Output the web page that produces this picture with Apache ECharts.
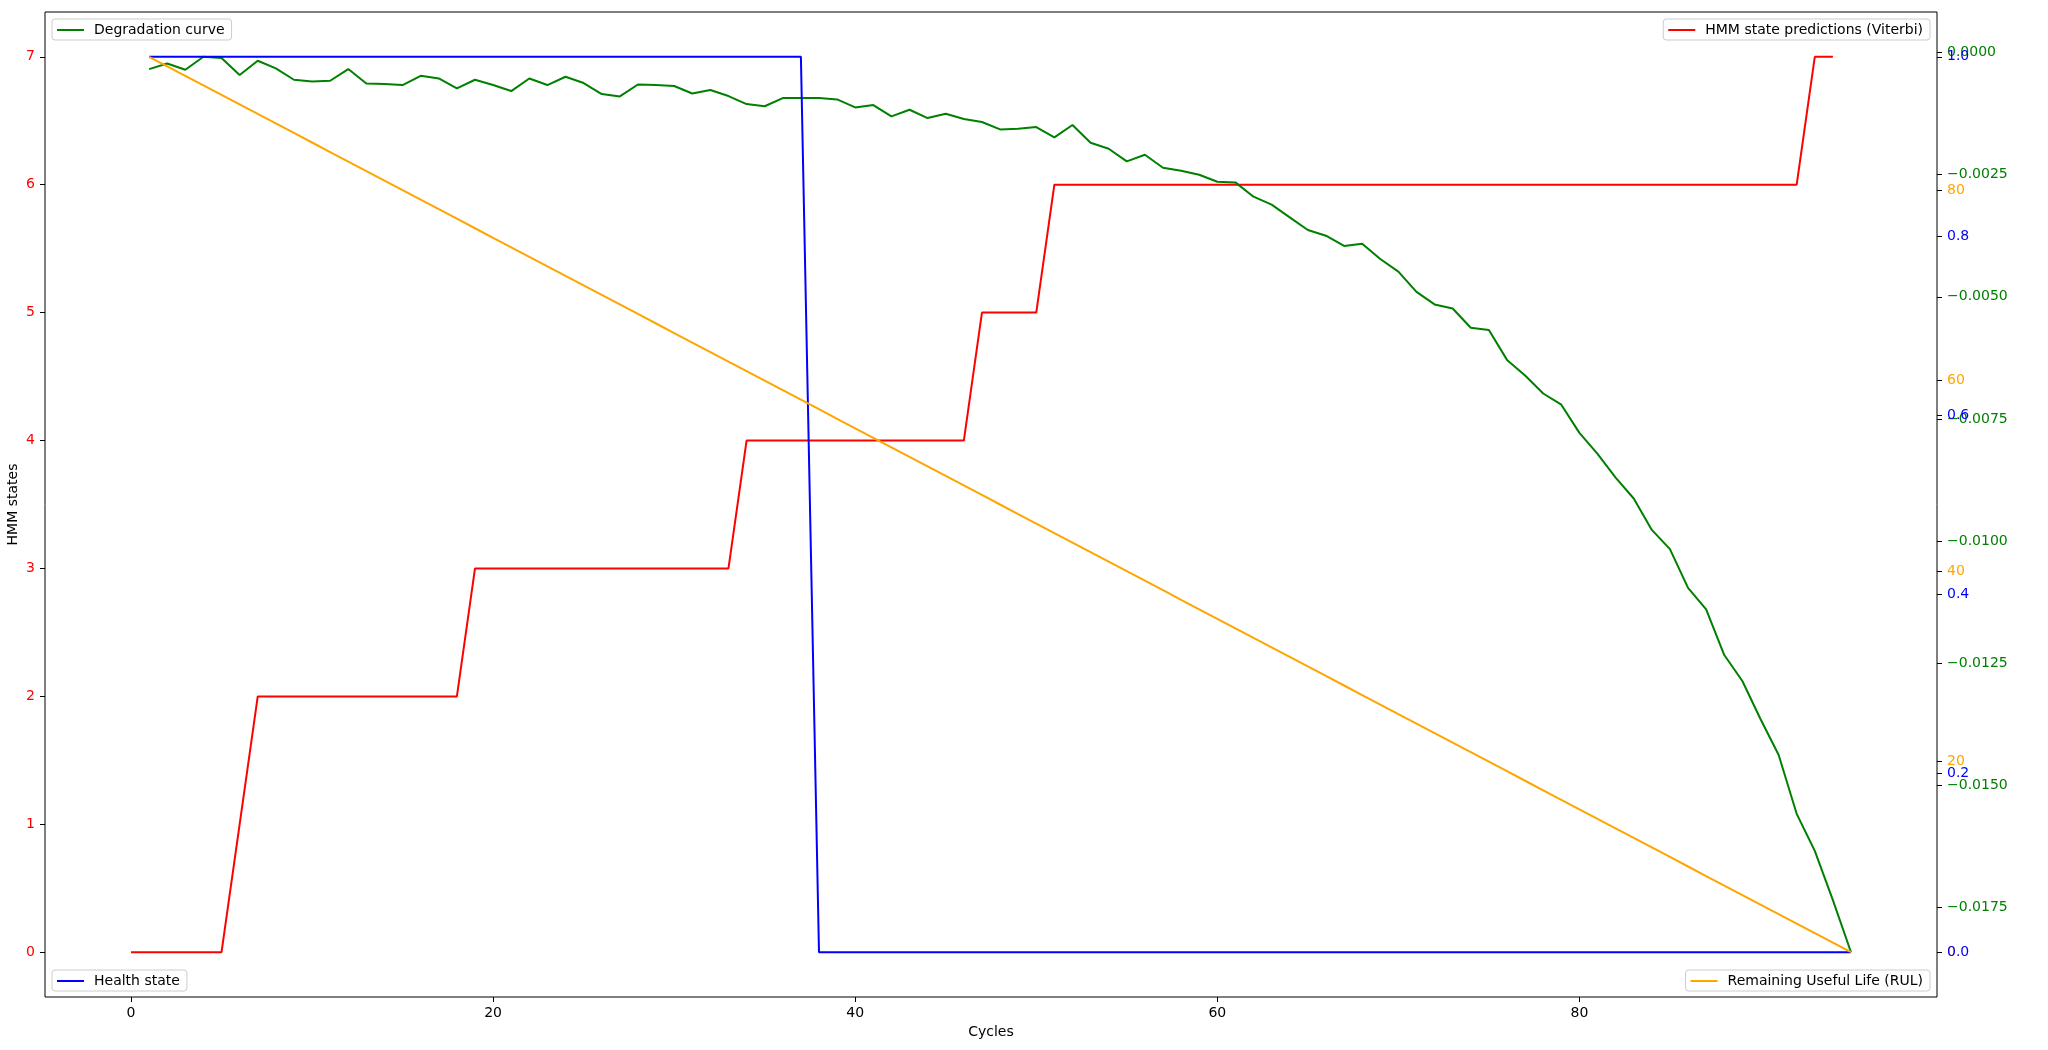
<!DOCTYPE html>
<html>
<head>
<meta charset="utf-8">
<script src="https://cdn.jsdelivr.net/npm/echarts@6/dist/echarts.min.js"></script>
<style>
  html, body { margin: 0; padding: 0; background: #fff; }
  #chart { width: 2048px; height: 1050px; }
</style>
</head>
<body>
<div id="chart"></div>
<script>
// HMM state predictions (Viterbi), cycles 0..94
const hmmStates = [
    0, 0, 0, 0, 0, 0, 1, 2, 2, 2, 2, 2, 2, 2, 2, 2, 2, 2, 2, 3,
    3, 3, 3, 3, 3, 3, 3, 3, 3, 3, 3, 3, 3, 3, 4, 4, 4, 4, 4, 4,
    4, 4, 4, 4, 4, 4, 4, 5, 5, 5, 5, 6, 6, 6, 6, 6, 6, 6, 6, 6,
    6, 6, 6, 6, 6, 6, 6, 6, 6, 6, 6, 6, 6, 6, 6, 6, 6, 6, 6, 6,
    6, 6, 6, 6, 6, 6, 6, 6, 6, 6, 6, 6, 6, 7, 7
];
const hmmStartCycle = 0;

// degradation curve, cycles 1..95
const degradation = [
    -0.000340, -0.000225, -0.000354, -0.000088, -0.000115, -0.000462, -0.000170, -0.000327, -0.000558, -0.000593,
    -0.000579, -0.000340, -0.000634, -0.000646, -0.000667, -0.000477, -0.000532, -0.000736, -0.000558, -0.000667,
    -0.000790, -0.000532, -0.000667, -0.000497, -0.000626, -0.000851, -0.000900, -0.000655, -0.000667, -0.000687,
    -0.000839, -0.000769, -0.000892, -0.001056, -0.001101, -0.000933, -0.000933, -0.000933, -0.000961, -0.001125,
    -0.001076, -0.001309, -0.001172, -0.001342, -0.001254, -0.001362, -0.001424, -0.001575, -0.001561, -0.001526,
    -0.001739, -0.001485, -0.001847, -0.001970, -0.002230, -0.002093, -0.002359, -0.002420, -0.002502, -0.002645,
    -0.002659, -0.002952, -0.003115, -0.003375, -0.003633, -0.003750, -0.003960, -0.003913, -0.004226, -0.004486,
    -0.004901, -0.005157, -0.005241, -0.005634, -0.005681, -0.006292, -0.006613, -0.006980, -0.007209, -0.007786,
    -0.008215, -0.008700, -0.009129, -0.009772, -0.010165, -0.010960, -0.011400, -0.012333, -0.012865, -0.013642,
    -0.014374, -0.015583, -0.016342, -0.017349, -0.018416
];
const lifeStartCycle = 1;

// health state, cycles 1..95
const healthState = [
    1, 1, 1, 1, 1, 1, 1, 1, 1, 1, 1, 1, 1, 1, 1, 1, 1, 1, 1, 1,
    1, 1, 1, 1, 1, 1, 1, 1, 1, 1, 1, 1, 1, 1, 1, 1, 1, 0, 0, 0,
    0, 0, 0, 0, 0, 0, 0, 0, 0, 0, 0, 0, 0, 0, 0, 0, 0, 0, 0, 0,
    0, 0, 0, 0, 0, 0, 0, 0, 0, 0, 0, 0, 0, 0, 0, 0, 0, 0, 0, 0,
    0, 0, 0, 0, 0, 0, 0, 0, 0, 0, 0, 0, 0, 0, 0
];

// remaining useful life, cycles 1..95
const rul = [
    94, 93, 92, 91, 90, 89, 88, 87, 86, 85, 84, 83, 82, 81, 80, 79, 78, 77, 76, 75,
    74, 73, 72, 71, 70, 69, 68, 67, 66, 65, 64, 63, 62, 61, 60, 59, 58, 57, 56, 55,
    54, 53, 52, 51, 50, 49, 48, 47, 46, 45, 44, 43, 42, 41, 40, 39, 38, 37, 36, 35,
    34, 33, 32, 31, 30, 29, 28, 27, 26, 25, 24, 23, 22, 21, 20, 19, 18, 17, 16, 15,
    14, 13, 12, 11, 10, 9, 8, 7, 6, 5, 4, 3, 2, 1, 0
];

const xTicks = [0, 20, 40, 60, 80];
const hmmTicks = [0, 1, 2, 3, 4, 5, 6, 7];
const degTicks = [0, -0.0025, -0.005, -0.0075, -0.01, -0.0125, -0.015, -0.0175];
const rulTicks = [0, 20, 40, 60, 80];
const healthTicks = [0, 0.2, 0.4, 0.6, 0.8, 1.0];

const FONT = 'DejaVu Sans';

function pairs(values, start) {
    return values.map((v, i) => [start + i, v]);
}
// matplotlib style 5% margins
function padded(lo, hi) {
    const m = (hi - lo) * 0.05;
    return {min: lo - m, max: hi + m};
}

const xr = padded(hmmStartCycle, lifeStartCycle + rul.length - 1);
const hr = padded(Math.min(...hmmStates), Math.max(...hmmStates));
const dr = padded(Math.min(...degradation), Math.max(...degradation));
const rr = padded(Math.min(...rul), Math.max(...rul));
const sr = padded(Math.min(...healthState), Math.max(...healthState));

function yAxis(range, ticks, color, pos, fmt) {
    return {
        type: 'value',
        position: pos,
        offset: 0,
        min: range.min,
        max: range.max,
        splitLine: {show: false},
        axisLine: {show: false, onZero: false},
        axisTick: {show: true, inside: false, length: 5, customValues: ticks,
            lineStyle: {color: '#000', width: 1}},
        axisLabel: {show: true, customValues: ticks, margin: 10, color: color,
            fontFamily: FONT, fontSize: 14, formatter: fmt}
    };
}

function legend(name, pos) {
    return Object.assign({
        data: [name],
        orient: 'horizontal',
        selectedMode: false,
        icon: 'rect',
        backgroundColor: 'rgba(255,255,255,0.8)',
        borderColor: '#cccccc',
        borderWidth: 1,
        borderRadius: 3,
        padding: [4, 7, 3, 5],
        itemWidth: 27,
        itemHeight: 2,
        textStyle: {fontFamily: FONT, fontSize: 14, color: '#000', padding: [0, 0, 0, 5]}
    }, pos);
}

const chart = echarts.init(document.getElementById('chart'), null, {renderer: 'canvas'});
chart.setOption({
    animation: false,
    backgroundColor: '#fff',
    grid: {
        left: 45, right: 111, top: 12, bottom: 53,
        show: true, borderColor: '#000', borderWidth: 1, backgroundColor: 'transparent',
        outerBoundsMode: 'none'
    },
    legend: [
        legend('Degradation curve', {left: 52, top: 19}),
        legend('HMM state predictions (Viterbi)', {right: 118, top: 19}),
        legend('Health state', {left: 52, bottom: 59}),
        legend('Remaining Useful Life (RUL)', {right: 118, bottom: 59})
    ],
    xAxis: {
        type: 'value',
        min: xr.min,
        max: xr.max,
        name: 'Cycles',
        nameLocation: 'middle',
        nameGap: 28,
        nameMoveOverlap: false,
        nameTextStyle: {fontFamily: FONT, fontSize: 14, color: '#000'},
        splitLine: {show: false},
        axisLine: {show: false, onZero: false},
        axisTick: {show: true, length: 5, customValues: xTicks, lineStyle: {color: '#000', width: 1}},
        axisLabel: {customValues: xTicks, margin: 9, color: '#000', fontFamily: FONT, fontSize: 14}
    },
    yAxis: [
        Object.assign(yAxis(hr, hmmTicks, 'red', 'left', v => String(v)), {
            name: 'HMM states',
            nameLocation: 'middle',
            nameGap: 25,
            nameMoveOverlap: false,
            nameTextStyle: {fontFamily: FONT, fontSize: 14, color: '#000'}
        }),
        yAxis(dr, degTicks, 'green', 'right',
            v => (v < 0 ? '\u2212' : '') + Math.abs(v).toFixed(4)),
        yAxis(rr, rulTicks, 'orange', 'right', v => String(v)),
        yAxis(sr, healthTicks, 'blue', 'right', v => v.toFixed(1))
    ],
    series: [
        {
            name: 'HMM state predictions (Viterbi)', type: 'line', yAxisIndex: 0,
            data: pairs(hmmStates, hmmStartCycle), symbol: 'none',
            lineStyle: {color: 'red', width: 2}, itemStyle: {color: 'red'}, z: 2
        },
        {
            name: 'Degradation curve', type: 'line', yAxisIndex: 1,
            data: pairs(degradation, lifeStartCycle), symbol: 'none',
            lineStyle: {color: 'green', width: 2}, itemStyle: {color: 'green'}, z: 3
        },
        {
            name: 'Health state', type: 'line', yAxisIndex: 3,
            data: pairs(healthState, lifeStartCycle), symbol: 'none',
            lineStyle: {color: 'blue', width: 2}, itemStyle: {color: 'blue'}, z: 4
        },
        {
            name: 'Remaining Useful Life (RUL)', type: 'line', yAxisIndex: 2,
            data: pairs(rul, lifeStartCycle), symbol: 'none',
            lineStyle: {color: 'orange', width: 2}, itemStyle: {color: 'orange'}, z: 5
        }
    ]
});
</script>
</body>
</html>
